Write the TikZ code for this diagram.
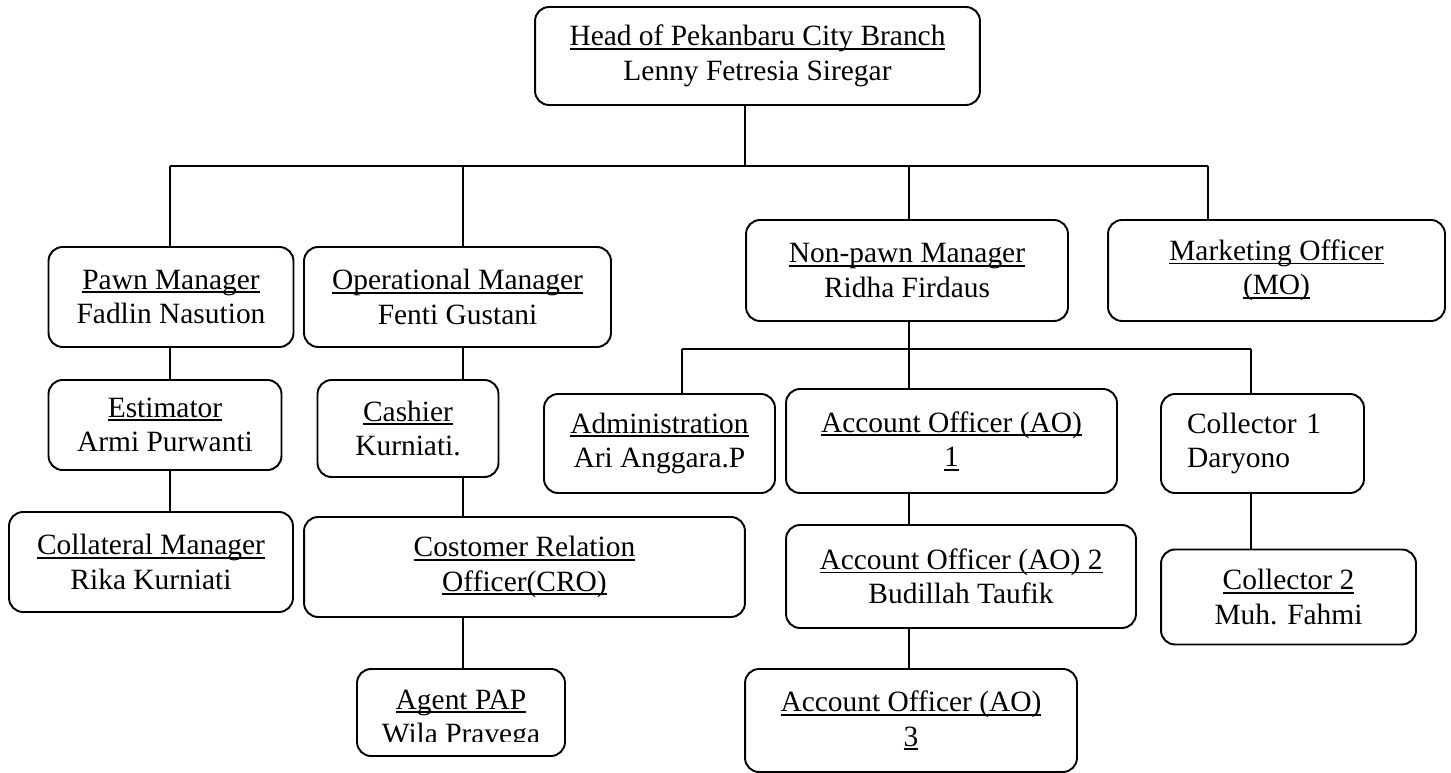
\documentclass[tikz,border=0pt]{standalone}
\usepackage{fontspec}
\setmainfont{Liberation Serif}
\usetikzlibrary{calc}
\newsavebox{\ulbox}
\newcommand{\uln}[1]{\sbox\ulbox{#1}\rlap{\rule[-2.2pt]{\wd\ulbox}{1pt}}\usebox\ulbox}

\begin{document}
\begin{tikzpicture}[x=0.02cm,y=-0.02cm,font=\fontsize{16.75}{19.6}\selectfont,
    box/.style={draw,rounded corners=8pt,line width=1.1pt,align=center,inner sep=0pt},
    link/.style={line width=0.8pt}]
                \useasboundingbox (0,0) rectangle (1451,773);
                % boxes
                \node[box,minimum width=8.9cm,minimum height=1.96cm] (head) at (757.5,56) {\uln{Head of Pekanbaru City Branch}\\Lenny Fetresia Siregar};
                \node[box,minimum width=4.9cm,minimum height=2cm] (pawn) at (171,297) {\uln{Pawn Manager}\\Fadlin Nasution};
                \node[box,minimum width=6.14cm,minimum height=2cm] (oper) at (457.5,297) {\uln{Operational Manager}\\Fenti Gustani};
                \node[box,minimum width=6.44cm,minimum height=2.02cm] (nonpawn) at (907,270.5) {\uln{Non-pawn Manager}\\Ridha Firdaus};
                \node[box,minimum width=6.74cm,minimum height=2.02cm] (mo) at (1276.5,270.5) {\uln{Marketing Officer}\\\uln{(MO)}};
                \node[box,minimum width=4.66cm,minimum height=1.8cm] (est) at (165,425) {\uln{Estimator}\\Armi Purwanti};
                \node[box,minimum width=3.62cm,minimum height=1.94cm] (cash) at (408,428.5) {\uln{Cashier}\\Kurniati.};
                \node[box,minimum width=4.62cm,minimum height=1.98cm] (adm) at (659.5,443.5) {\uln{Administration}\\Ari Anggara.P};
                \node[box,minimum width=6.62cm,minimum height=2.08cm] (ao1) at (951.5,441) {\uln{Account Officer (AO)}\\\uln{1}};
                \node[box,minimum width=4.06cm,minimum height=1.98cm,align=left,text width=3.02cm] (col1) at (1262.5,443.5) {Collector 1\\Daryono};
                \node[box,minimum width=5.68cm,minimum height=2cm] (coll) at (151,562) {\uln{Collateral Manager}\\Rika Kurniati};
                \node[box,minimum width=8.82cm,minimum height=2cm] (cro) at (524.5,567) {\uln{Costomer Relation}\\\uln{Officer(CRO)}};
                \node[box,minimum width=7cm,minimum height=2.06cm] (ao2) at (961,576.5) {\uln{Account Officer (AO) 2}\\Budillah Taufik};
                \node[box,minimum width=5.1cm,minimum height=1.9cm] (col2) at (1288.5,597) {\uln{Collector 2}\\Muh. Fahmi};
                \node[box,minimum width=4.16cm,minimum height=1.74cm] (agent) at (461,712.5) {};
                \node[box,minimum width=6.64cm,minimum height=2.06cm] (ao3) at (911,720.5) {\uln{Account Officer (AO)}\\\uln{3}};
                % text of the agent box, cut off at the bottom
                \coordinate (cut) at (0,741);
                \begin{scope}
                \clip (agent.north west) rectangle (agent.east |- cut);
                \node[align=center,inner sep=0pt] (agenttext) at (461,720) {\uln{Agent PAP}\\Wila Pravega};
                \end{scope}
                % main bus
                \coordinate (hb) at (745,166);
                \coordinate (b1) at (170,166);
                \coordinate (b2) at (463,166);
                \coordinate (b3) at (909,166);
                \coordinate (b4) at (1208,166);
                \draw[link] (head.south -| hb) -- (hb);
                \draw[link] (b1) -- (b4);
                \draw[link] (b1) -- (b1 |- pawn.north);
                \draw[link] (b2) -- (b2 |- oper.north);
                \draw[link] (b3) -- (b3 |- nonpawn.north);
                \draw[link] (b4) -- (b4 |- mo.north);
                % pawn column
                \draw[link] (b1 |- pawn.south) -- (b1 |- est.north);
                \draw[link] (b1 |- est.south) -- (b1 |- coll.north);
                % operational column
                \draw[link] (b2 |- oper.south) -- (b2 |- cash.north);
                \draw[link] (b2 |- cash.south) -- (b2 |- cro.north);
                \draw[link] (b2 |- cro.south) -- (b2 |- agent.north);
                % non-pawn branch
                \coordinate (s1) at (682,349);
                \coordinate (s2) at (909,349);
                \coordinate (s3) at (1251,349);
                \draw[link] (s2 |- nonpawn.south) -- (s2);
                \draw[link] (s1) -- (s3);
                \draw[link] (s1) -- (s1 |- adm.north);
                \draw[link] (s2) -- (s2 |- ao1.north);
                \draw[link] (s3) -- (s3 |- col1.north);
                \draw[link] (s2 |- ao1.south) -- (s2 |- ao2.north);
                \draw[link] (s2 |- ao2.south) -- (s2 |- ao3.north);
                \draw[link] (s3 |- col1.south) -- (s3 |- col2.north);
\end{tikzpicture}
\end{document}
